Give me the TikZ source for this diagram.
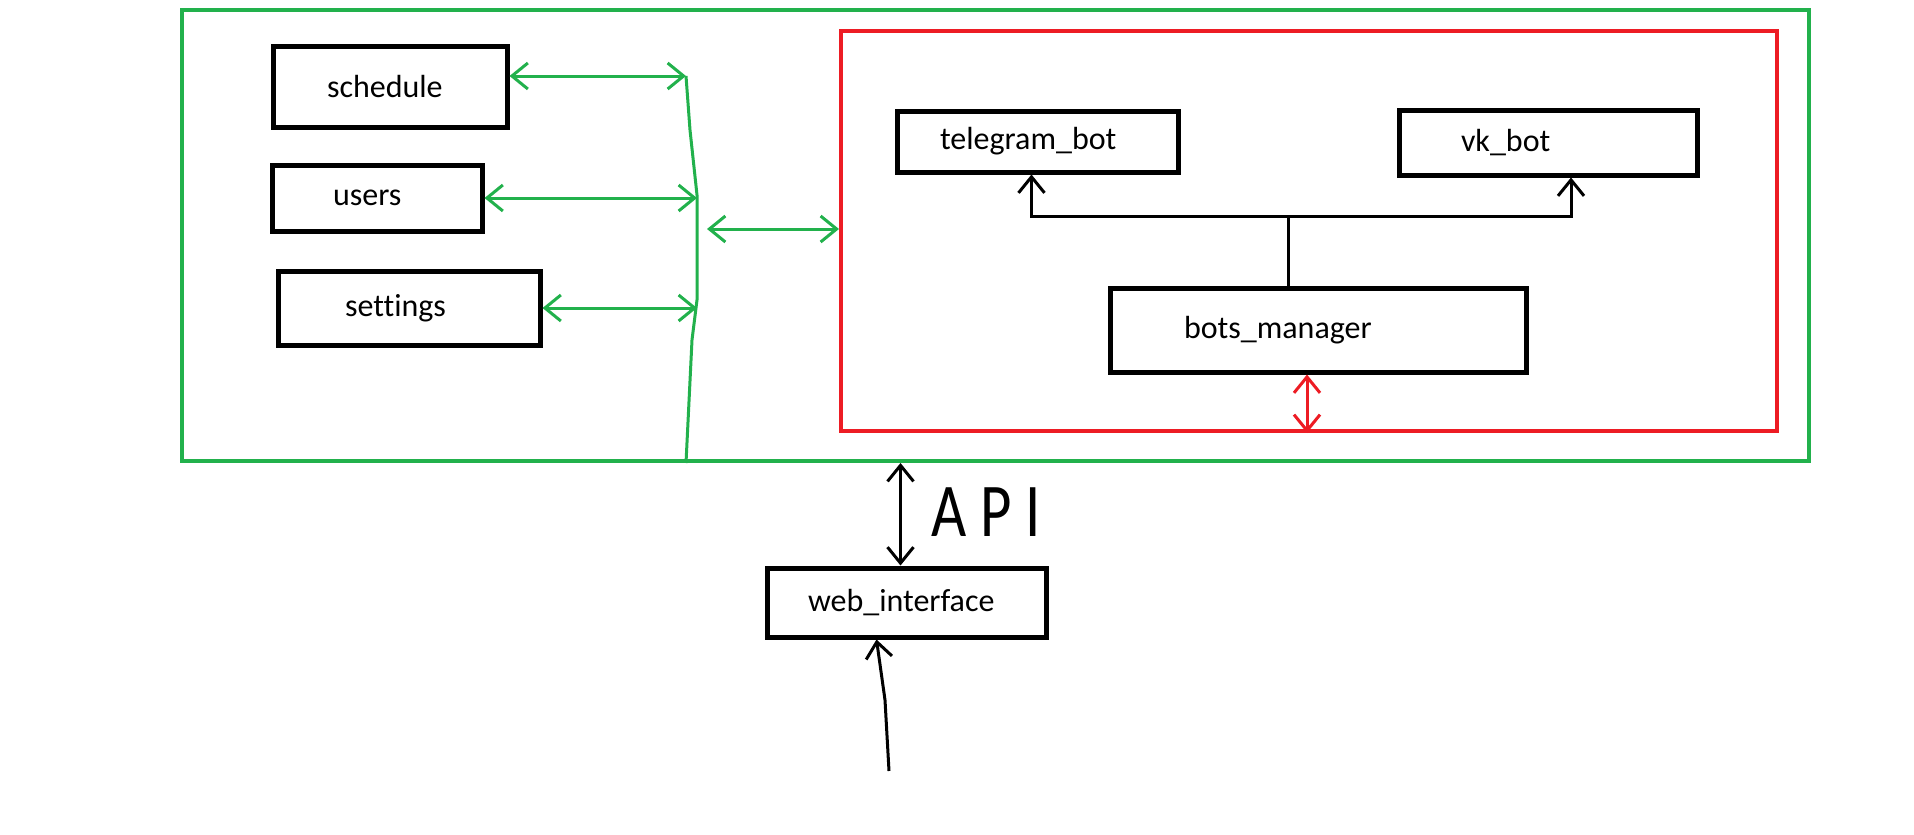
\documentclass[tikz,border=0pt]{standalone}
\usepackage{fontspec}
\setmainfont{Carlito}[Ligatures=NoCommon]
\usepackage{graphicx}
\usetikzlibrary{arrows.meta}
\definecolor{paintgreen}{RGB}{34,177,76}
\definecolor{paintred}{RGB}{237,28,36}
\tikzset{
  block/.style={draw, line width=5pt, align=left, inner ysep=0pt, font=\fontsize{32}{36}\selectfont},
  bus/.style={draw=paintgreen, line width=3pt},
  link/.style={draw=black, line width=3pt},
}

\begin{document}
\begin{tikzpicture}[x=1pt,y=-1pt,>={Straight Barb[length=16pt,width=26pt]}]
                \useasboundingbox (0,0) rectangle (1914,835);

                \node[draw=paintgreen, line width=4pt, minimum width=1627pt, minimum height=451pt, inner sep=0pt] (service) at (995.5,235.5) {};
                \node[draw=paintred, line width=4pt, minimum width=936pt, minimum height=400pt, inner sep=0pt] (core) at (1309,231) {};

                \node[block, text width=126pt, inner xsep=54pt, minimum height=81pt] (schedule) at (390,86.5) {schedule};
                \node[block, text width=88pt, inner xsep=61pt, minimum height=66pt] (users) at (377,198) {users};
                \node[block, text width=128pt, inner xsep=67pt, minimum height=74pt] (settings) at (409,308) {settings};

                \node[block, text width=195pt, inner xsep=43pt, minimum height=61pt] (tgbot) at (1037.5,141.5) {telegram\_bot};
                \node[block, text width=174pt, inner xsep=62pt, minimum height=65pt] (vkbot) at (1548,142.5) {vk\_bot};
                \node[block, text width=268pt, inner xsep=74pt, minimum height=84pt] (manager) at (1318,330) {bots\_manager};

                \node[block, text width=197pt, inner xsep=41pt, minimum height=69pt] (web) at (906.5,602.5) {web\_interface};
                \node[font=\fontsize{76}{76}\selectfont] (api) at (986,512) {\scalebox{0.8}[1]{A P I}};

                \coordinate (bustop) at (686,76);
                \coordinate (busmid) at (697,250);
                \coordinate (busout) at (707,229);
                \coordinate (split) at (1288,216);
                \coordinate (client) at (889,771);

                \draw[bus] (bustop) -- (690,130) -- (697,195) -- (697,300) -- (692,340) -- (bustop |- service.south);
                \draw[bus, <->] (schedule.east |- bustop) -- (bustop);
                \draw[bus, <->] (users.east) -- (users.east -| busmid);
                \draw[bus, <->] (settings.east) -- (settings.east -| busmid);
                \draw[bus, <->] (busout) -- (busout -| core.west);

                \draw[link] ([xshift=-30pt]manager.north) -- (split);
                \draw[link, ->] (split) -| ([xshift=-6pt]tgbot.south);
                \draw[link, ->] (split) -| ([xshift=23pt]vkbot.south);
                \draw[draw=paintred, line width=3pt, <->] ([xshift=-11pt]manager.south) -- ([xshift=-11pt]manager.south |- core.south);

                \draw[link, <->] ([xshift=-6pt]web.north |- service.south) -- ([xshift=-6pt]web.north);
                \draw[link, ->] (client) -- (885,700) -- ([xshift=-30pt]web.south);
            \end{tikzpicture}
\end{document}
